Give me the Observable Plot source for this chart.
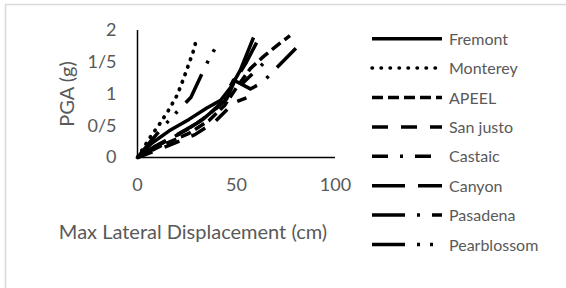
<!DOCTYPE html>
<html><head><meta charset="utf-8">
<script src="https://cdn.jsdelivr.net/npm/d3@7"></script>
<script src="https://cdn.jsdelivr.net/npm/@observablehq/plot@0.6"></script>
<style>
html,body{margin:0;padding:0;background:#fff;}
</style>
</head><body>
<div id="chart"></div>
<script>
const seriesNames = ["Fremont","Monterey","APEEL","San justo","Castaic","Canyon","Pasadena","Pearblossom"];
const xTicks = [0, 50, 100];
const yTicks = [0, 0.5, 1, 1.5, 2];
const yTickLabels = ["0", "0/5", "1", "1/5", "2"];
const xTitle = "Max Lateral Displacement (cm)";
const yTitle = "PGA (g)";

// displacement (cm) and PGA (g) per series
const fremontX = [0, 7, 16, 26, 35, 42, 47, 52, 58.6];
const fremontY = [0, 0.22, 0.42, 0.6, 0.78, 0.9, 1.1, 1.38, 1.89];
const montereyX = [0, 6, 11, 16, 20, 23, 26, 28.5, 30];
const montereyY = [0, 0.3, 0.52, 0.76, 0.98, 1.22, 1.48, 1.7, 1.9];
const apeelX = [0, 13, 26, 36, 44, 50, 57, 64, 72, 77];
const apeelY = [0, 0.2, 0.38, 0.58, 0.82, 1.1, 1.4, 1.6, 1.8, 1.92];
const sanJustoX = [0, 15, 29, 39, 46, 50, 55];
const sanJustoY = [0, 0.18, 0.36, 0.56, 0.78, 0.88, 0.94];
const castaicX = [0, 12, 24, 34, 43, 48, 53.5, 63.5];
const castaicY = [0, 0.22, 0.42, 0.62, 0.88, 1.14, 1.18, 1.48];
const canyonX = [0, 9, 20, 30, 38, 45, 49, 55, 62];
const canyonY = [0, 0.18, 0.36, 0.54, 0.72, 0.92, 1.2, 1.5, 1.92];
const pasadenaX = [0, 11, 23, 33, 42, 48.5, 57, 63, 80];
const pasadenaY = [0, 0.2, 0.4, 0.6, 0.84, 1.22, 1.08, 1.18, 1.72];
const pearblossomX = [0, 7, 14, 20, 27, 33, 36.4, 41];
const pearblossomY = [0, 0.27, 0.52, 0.72, 0.95, 1.35, 1.57, 1.81];

const seriesX = [fremontX, montereyX, apeelX, sanJustoX, castaicX, canyonX, pasadenaX, pearblossomX];
const seriesY = [fremontY, montereyY, apeelY, sanJustoY, castaicY, canyonY, pasadenaY, pearblossomY];

const dashes = ["none", "0.5,7.5", "11,5", "16,13", "16,12,3,12", "33,13", "33,12,3,12", "33,12,3,10,3,12"];
const caps = ["butt", "round", "butt", "butt", "butt", "butt", "butt", "butt"];

const tables = seriesNames.map((name, i) => seriesX[i].map((x, j) => ({series: name, x, y: seriesY[i][j]})));

const font = "Lato, 'Open Sans', sans-serif";
const gray = "#595959";

const chart = Plot.plot({
  width: 566,
  height: 288,
  marginLeft: 137,
  marginRight: 231,
  marginTop: 30,
  marginBottom: 131,
  style: {fontFamily: font, fontSize: "18px", color: gray, background: "#fff"},
  x: {domain: [0, 100]},
  y: {domain: [0, 2]},
  marks: [
    Plot.axisX({ticks: xTicks, tickSize: 0, tickPadding: 21, label: null, fontSize: 18, fill: gray}),
    Plot.axisY({ticks: yTicks, tickSize: 0, tickPadding: 21, label: null, fontSize: 18, fill: gray,
      tickFormat: (d) => yTickLabels[yTicks.indexOf(d)]}),
    ...tables.map((t, i) => Plot.line(t, {x: "x", y: "y", stroke: "#000", strokeWidth: i === 1 ? 3.8 : 3.5,
      strokeDasharray: dashes[i], strokeLinecap: caps[i], strokeLinejoin: "round"})),
    Plot.ruleX([0], {stroke: "#000", strokeWidth: 1.5}),
    Plot.ruleY([0], {stroke: "#000", strokeWidth: 1.5})
  ]
});

const svg = d3.select(chart);
svg.insert("rect", ":first-child")
  .attr("x", 5.5).attr("y", 4.5).attr("width", 700).attr("height", 400)
  .attr("fill", "none").attr("stroke", "#d9d9d9").attr("stroke-width", 1.5);

svg.append("text").attr("x", 193).attr("y", 239).attr("text-anchor", "middle")
  .attr("fill", gray).style("font-family", font).style("font-size", "20px").text(xTitle);
svg.append("text").attr("transform", "translate(74,94) rotate(-90)").attr("text-anchor", "middle")
  .attr("fill", gray).style("font-family", font).style("font-size", "20px").text(yTitle);

const leg = svg.append("g").attr("text-anchor", "start");
seriesNames.forEach((name, i) => {
  const y = 38.7 + i * 29.4;
  leg.append("line").attr("x1", 372).attr("x2", 442).attr("y1", y).attr("y2", y)
    .attr("stroke", "#000").attr("stroke-width", 3.5)
    .attr("stroke-dasharray", dashes[i] === "none" ? null : (i === 1 ? "0.5,8.5" : dashes[i]))
    .attr("stroke-linecap", caps[i]);
  leg.append("text").attr("x", 449).attr("y", y + 6).attr("fill", gray).attr("text-anchor", "start")
    .style("font-family", font).style("font-size", "16px").text(name);
});

document.getElementById("chart").appendChild(chart);
</script>
</body></html>
